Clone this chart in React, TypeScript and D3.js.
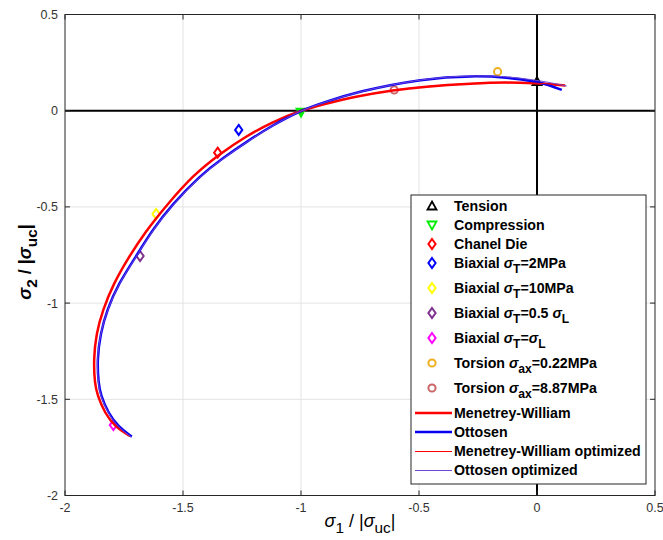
import React from "react";
import * as d3 from "d3";

// ---------- data ----------
const xTicks = [-2, -1.5, -1, -0.5, 0, 0.5];
const xTickLabels = ["-2", "-1.5", "-1", "-0.5", "0", "0.5"];
const yTicks = [0.5, 0, -0.5, -1, -1.5, -2];
const yTickLabels = ["0.5", "0", "-0.5", "-1", "-1.5", "-2"];

const tension: [number, number][] = [[0, 0.151]];
const compression: [number, number][] = [[-1.0, -0.008]];
const chanelDie: [number, number][] = [[-1.353, -0.218]];
const biaxial2MPa: [number, number][] = [[-1.264, -0.1]];
const biaxial10MPa: [number, number][] = [[-1.614, -0.537]];
const biaxialHalf: [number, number][] = [[-1.682, -0.755]];
const biaxialEqual: [number, number][] = [[-1.795, -1.634]];
const torsion022: [number, number][] = [[-0.167, 0.203]];
const torsion887: [number, number][] = [[-0.605, 0.108]];

const menetreyWilliam: [number, number][] = [
  [0.119, 0.131], [0.06, 0.138], [-0.001, 0.142], [-0.128, 0.148], [-0.27, 0.142], [-0.482, 0.125],
  [-0.605, 0.108], [-0.764, 0.076], [-0.906, 0.033], [-1.004, 0], [-1.12, -0.058], [-1.23, -0.13],
  [-1.345, -0.225], [-1.456, -0.334], [-1.569, -0.49], [-1.66, -0.63], [-1.732, -0.765], [-1.795, -0.9],
  [-1.84, -1.036], [-1.868, -1.16], [-1.879, -1.296], [-1.874, -1.417], [-1.863, -1.478],
  [-1.831, -1.573], [-1.788, -1.642], [-1.725, -1.691],
];
const ottosen: [number, number][] = [
  [0.105, 0.108], [0.05, 0.134], [0, 0.151], [-0.128, 0.174], [-0.27, 0.182], [-0.482, 0.168],
  [-0.764, 0.099], [-0.906, 0.042], [-1.004, 0], [-1.12, -0.075], [-1.23, -0.161], [-1.33, -0.245],
  [-1.425, -0.334], [-1.548, -0.49], [-1.63, -0.62], [-1.7, -0.759], [-1.774, -0.9], [-1.822, -1.036],
  [-1.85, -1.157], [-1.864, -1.296], [-1.858, -1.417], [-1.849, -1.478], [-1.816, -1.573],
  [-1.774, -1.642], [-1.717, -1.694],
];
const menetreyWilliamOpt: [number, number][] = [
  [0.122, 0.129], [0.06, 0.139], [0, 0.143], [-0.128, 0.149], [-0.27, 0.143], [-0.482, 0.126],
  [-0.605, 0.108], [-0.764, 0.076], [-0.906, 0.033], [-1.004, 0], [-1.12, -0.058], [-1.23, -0.131],
  [-1.345, -0.226], [-1.456, -0.335], [-1.569, -0.491], [-1.66, -0.631], [-1.732, -0.766], [-1.795, -0.901],
  [-1.84, -1.037], [-1.868, -1.161], [-1.879, -1.297], [-1.874, -1.418], [-1.863, -1.479],
  [-1.831, -1.574], [-1.788, -1.643], [-1.724, -1.693],
];
const ottosenOpt: [number, number][] = [
  [0.126, 0.128], [0.06, 0.145], [0, 0.158], [-0.128, 0.178], [-0.27, 0.184], [-0.482, 0.168],
  [-0.764, 0.098], [-0.906, 0.041], [-1.004, 0], [-1.12, -0.076], [-1.23, -0.163], [-1.33, -0.247],
  [-1.425, -0.337], [-1.548, -0.493], [-1.63, -0.623], [-1.7, -0.762], [-1.774, -0.903], [-1.822, -1.04],
  [-1.851, -1.16], [-1.865, -1.3], [-1.859, -1.42], [-1.85, -1.48], [-1.817, -1.575],
  [-1.775, -1.644], [-1.72, -1.696],
];

type Seg = { t: string; sub?: boolean; it?: boolean };
const legendLabels: Seg[][] = [
  [{ t: "Tension" }],
  [{ t: "Compression" }],
  [{ t: "Chanel Die" }],
  [{ t: "Biaxial " }, { t: "σ", it: true }, { t: "T", sub: true }, { t: "=2MPa" }],
  [{ t: "Biaxial " }, { t: "σ", it: true }, { t: "T", sub: true }, { t: "=10MPa" }],
  [{ t: "Biaxial " }, { t: "σ", it: true }, { t: "T", sub: true }, { t: "=0.5 " }, { t: "σ", it: true }, { t: "L", sub: true }],
  [{ t: "Biaxial " }, { t: "σ", it: true }, { t: "T", sub: true }, { t: "=" }, { t: "σ", it: true }, { t: "L", sub: true }],
  [{ t: "Torsion " }, { t: "σ", it: true }, { t: "ax", sub: true }, { t: "=0.22MPa" }],
  [{ t: "Torsion " }, { t: "σ", it: true }, { t: "ax", sub: true }, { t: "=8.87MPa" }],
  [{ t: "Menetrey-William" }],
  [{ t: "Ottosen" }],
  [{ t: "Menetrey-William optimized" }],
  [{ t: "Ottosen optimized" }],
];

// ---------- component ----------
const W = 663, H = 540;
const FONT = "'Liberation Sans', Arial, Helvetica, sans-serif";

function RichText({ segs, x, y, size, weight, anchor, transform }: any) {
  const out: any[] = [];
  let down = false;
  segs.forEach((s: Seg, i: number) => {
    let dy = 0;
    if (s.sub && !down) { dy = size * 0.32; down = true; }
    else if (!s.sub && down) { dy = -size * 0.32; down = false; }
    out.push(
      <tspan key={i} dy={dy} fontStyle={s.it ? "italic" : "normal"} fontSize={s.sub ? size * 0.85 : size}>
        {s.t}
      </tspan>
    );
  });
  return (
    <text x={x} y={y} fontSize={size} fontWeight={weight} textAnchor={anchor} fontFamily={FONT} fill="#000" transform={transform}>
      {out}
    </text>
  );
}

function Marker({ kind, color, x, y, fill }: any) {
  if (kind === "diamond") {
    const d = `M${x},${y - 5} L${x + 3.6},${y} L${x},${y + 5} L${x - 3.6},${y} Z`;
    return <path d={d} fill="none" stroke={color} strokeWidth={2} />;
  }
  if (kind === "circle") return <circle cx={x} cy={y} r={3.6} fill="none" stroke={color} strokeWidth={2} />;
  if (kind === "up") {
    const d = `M${x},${y - 4.5} L${x + 4.5},${y + 3.5} L${x - 4.5},${y + 3.5} Z`;
    return <path d={d} fill={fill ? color : "none"} stroke={color} strokeWidth={1.8} strokeLinejoin="miter" />;
  }
  const d = `M${x},${y + 4.5} L${x + 4.5},${y - 3.5} L${x - 4.5},${y - 3.5} Z`;
  return <path d={d} fill={fill ? color : "none"} stroke={color} strokeWidth={1.8} />;
}

export default function App() {
  const x = d3.scaleLinear().domain([-2, 0.5]).range([65, 655]);
  const y = d3.scaleLinear().domain([-2, 0.5]).range([495.5, 14.5]);
  const line = d3.line<[number, number]>()
    .x((d) => x(d[0]))
    .y((d) => y(d[1]))
    .curve(d3.curveBasis);

  const points = [
    { data: tension, kind: "up", color: "#000000", fill: true },
    { data: compression, kind: "down", color: "#00ee00", fill: true },
    { data: chanelDie, kind: "diamond", color: "#ff0000" },
    { data: biaxial2MPa, kind: "diamond", color: "#0000ff" },
    { data: biaxial10MPa, kind: "diamond", color: "#ffff00" },
    { data: biaxialHalf, kind: "diamond", color: "#7e2f8e" },
    { data: biaxialEqual, kind: "diamond", color: "#ff00ff" },
    { data: torsion022, kind: "circle", color: "#edb120" },
    { data: torsion887, kind: "circle", color: "#cc6666" },
  ];
  const curves = [
    { data: menetreyWilliam, color: "#ff0000", w: 2.5 },
    { data: ottosen, color: "#0a00f0", w: 2.5 },
    { data: menetreyWilliamOpt, color: "#ff0000", w: 1 },
    { data: ottosenOpt, color: "#7048d8", w: 1 },
  ];

  const x0 = 65, x1 = 655, y0 = 14.5, y1 = 495.5;
  const axisCol = "#262626";

  // legend layout
  const lx0 = 411, lx1 = 646, ly0 = 195, ly1 = 484;
  const rowY: number[] = [];
  let cy = 206;
  legendLabels.forEach((segs) => {
    rowY.push(cy);
    cy += segs.some((s) => s.sub) ? 25 : 19;
  });

  return (
    <svg width={W} height={H} style={{ position: "absolute", left: 0, top: 0, background: "#fff" }}>
      <rect x={0} y={0} width={W} height={H} fill="#fff" />
      {/* grid */}
      {xTicks.filter((t) => t > -2 && t < 0.5).map((t) => (
        <line key={"gx" + t} x1={x(t)} x2={x(t)} y1={y0} y2={y1} stroke="#e3e3e3" strokeWidth={1} />
      ))}
      {yTicks.filter((t) => t > -2 && t < 0.5).map((t) => (
        <line key={"gy" + t} x1={x0} x2={x1} y1={y(t)} y2={y(t)} stroke="#e3e3e3" strokeWidth={1} />
      ))}
      {/* zero lines */}
      <line x1={x(0)} x2={x(0)} y1={y0} y2={y1} stroke="#000" strokeWidth={2} />
      <line x1={x0} x2={x1} y1={y(0)} y2={y(0)} stroke="#000" strokeWidth={2} />

      {/* markers */}
      {points.map((p, i) =>
        p.data.map((d, j) => (
          <Marker key={i + "-" + j} kind={p.kind} color={p.color} fill={p.fill} x={x(d[0])} y={y(d[1])} />
        ))
      )}
      {/* curves */}
      {curves.map((c, i) => (
        <path key={"c" + i} d={line(c.data) || ""} fill="none" stroke={c.color} strokeWidth={c.w} strokeLinejoin="round" />
      ))}

      {/* box */}
      <rect x={x0} y={y0} width={x1 - x0} height={y1 - y0} fill="none" stroke={axisCol} strokeWidth={1} />
      {xTicks.map((t) => (
        <g key={"tx" + t}>
          <line x1={x(t)} x2={x(t)} y1={y1} y2={y1 - 5} stroke={axisCol} />
          <line x1={x(t)} x2={x(t)} y1={y0} y2={y0 + 5} stroke={axisCol} />
        </g>
      ))}
      {yTicks.map((t) => (
        <g key={"ty" + t}>
          <line x1={x0} x2={x0 + 5} y1={y(t)} y2={y(t)} stroke={axisCol} />
          <line x1={x1} x2={x1 - 5} y1={y(t)} y2={y(t)} stroke={axisCol} />
        </g>
      ))}
      {xTicks.map((t, i) => (
        <text key={"lx" + t} x={x(t)} y={y1 + 16} fontSize={12.5} fontFamily={FONT} fill="#333" textAnchor="middle">
          {xTickLabels[i]}
        </text>
      ))}
      {yTicks.map((t, i) => (
        <text key={"ly" + t} x={x0 - 7} y={y(t) + 4.5} fontSize={12.5} fontFamily={FONT} fill="#333" textAnchor="end">
          {yTickLabels[i]}
        </text>
      ))}

      {/* axis labels */}
      <RichText
        segs={[{ t: "σ", it: true }, { t: "1", sub: true }, { t: " / |" }, { t: "σ", it: true }, { t: "uc", sub: true }, { t: "|" }]}
        x={360} y={527} size={18} weight="normal" anchor="middle"
      />
      <RichText
        segs={[{ t: "σ", it: true }, { t: "2", sub: true }, { t: " / |" }, { t: "σ", it: true }, { t: "uc", sub: true }, { t: "|" }]}
        x={0} y={0} size={18} weight="bold" anchor="middle" transform="translate(31,262) rotate(-90)"
      />

      {/* legend */}
      <rect x={lx0} y={ly0} width={lx1 - lx0} height={ly1 - ly0} fill="#fff" stroke={axisCol} strokeWidth={1} />
      {legendLabels.map((segs, i) => {
        const ry = rowY[i];
        let sym: any = null;
        if (i < points.length) {
          const p = points[i];
          sym = <Marker kind={p.kind} color={p.color} fill={false} x={432} y={ry} />;
        } else {
          const c = curves[i - points.length];
          const ly = c.w < 2 ? ry + 0.5 : ry;
          sym = <line x1={415} x2={452} y1={ly} y2={ly} stroke={c.color} strokeWidth={c.w} />;
        }
        return (
          <g key={"lg" + i}>
            {sym}
            <RichText segs={segs} x={454} y={ry + 5} size={14.2} weight="bold" anchor="start" />
          </g>
        );
      })}
    </svg>
  );
}
